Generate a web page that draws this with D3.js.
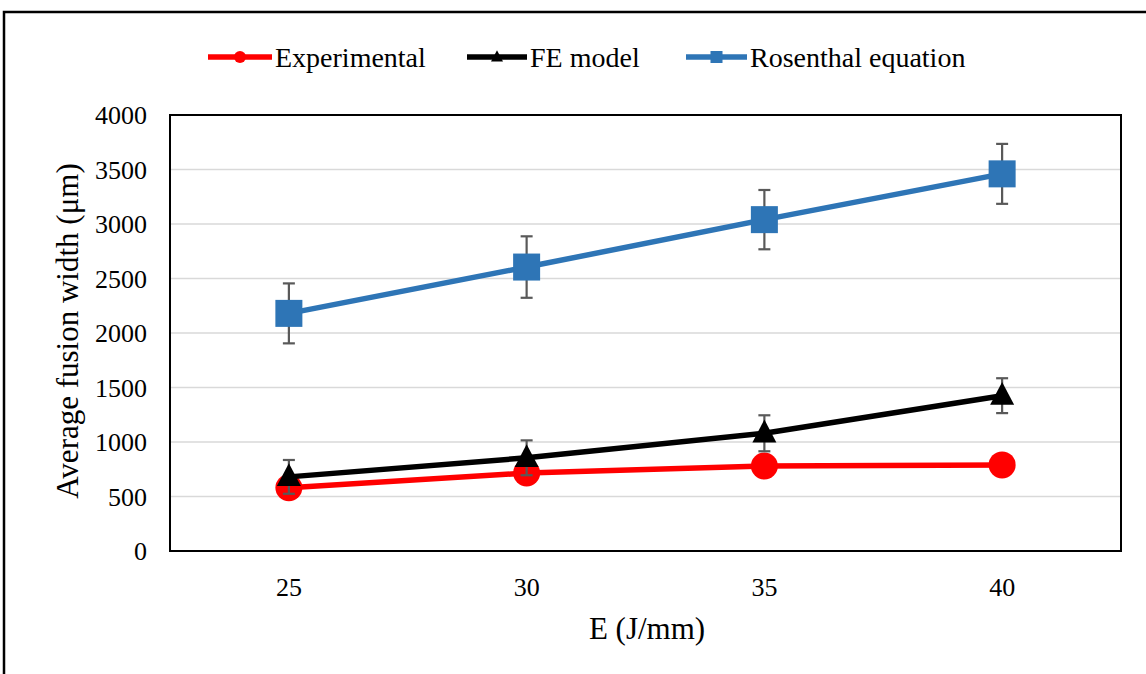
<!DOCTYPE html>
<html>
<head>
<meta charset="utf-8">
<script src="https://cdn.jsdelivr.net/npm/d3@7/dist/d3.min.js"></script>
<style>
  html, body { margin: 0; padding: 0; background: #fff; }
  svg { display: block; }
  text { font-family: "Liberation Serif", "Times New Roman", serif; fill: #000; }
</style>
</head>
<body>
<svg id="chart" width="1146" height="674"></svg>
<script>
// Energy input categories (J/mm)
const energies = ["25", "30", "35", "40"];

// Average fusion width (µm) per series
const experimental = [580, 715, 780, 790];
const feModel = [680, 855, 1080, 1425];
const feModelErr = [155, 160, 165, 160];
const rosenthal = [2180, 2605, 3040, 3460];
const rosenthalErr = [275, 282, 272, 275];

const yTicks = [0, 500, 1000, 1500, 2000, 2500, 3000, 3500, 4000];

const seriesNames = ["Experimental", "FE model", "Rosenthal equation"];
const seriesColors = ["#ff0000", "#000000", "#2e75b6"];
const seriesShapes = ["circle", "triangle", "square"];

const svg = d3.select("#chart");
const W = 1146, H = 674;
const plot = { left: 170, top: 115, right: 1121, bottom: 551 };

// outer frame of the figure
svg.append("rect")
  .attr("x", 4).attr("y", 12)
  .attr("width", W + 10).attr("height", H + 10)
  .attr("fill", "none").attr("stroke", "#000").attr("stroke-width", 2.5);

const x = d3.scaleBand().domain(energies).range([plot.left, plot.right]).padding(0);
const cx = d => x(d) + x.bandwidth() / 2;
const y = d3.scaleLinear().domain([0, 4000]).range([plot.bottom, plot.top]);

// horizontal gridlines
svg.append("g")
  .selectAll("line")
  .data(yTicks.filter(t => t > 0 && t < 4000))
  .join("line")
  .attr("x1", plot.left).attr("x2", plot.right)
  .attr("y1", d => y(d)).attr("y2", d => y(d))
  .attr("stroke", "#d9d9d9").attr("stroke-width", 1.5);

// y axis labels
const yAxis = d3.axisLeft(y).tickValues(yTicks).tickSize(0).tickPadding(0).tickFormat(d3.format("d"));
const gy = svg.append("g").attr("transform", `translate(${plot.left - 23},0)`).call(yAxis);
gy.select(".domain").remove();
gy.selectAll("text")
  .attr("font-size", 26)
  .attr("fill", "#000")
  .attr("dy", "0.34em");

// x axis labels
const xAxis = d3.axisBottom(x).tickSize(0).tickPadding(0);
const gx = svg.append("g").attr("transform", `translate(0,${plot.bottom + 27})`).call(xAxis);
gx.select(".domain").remove();
gx.selectAll("text")
  .attr("font-size", 26)
  .attr("fill", "#000")
  .attr("dy", "0.71em");

// axis titles
svg.append("text")
  .attr("x", 647).attr("y", 639)
  .attr("text-anchor", "middle")
  .attr("font-size", 31)
  .text("E (J/mm)");

svg.append("text")
  .attr("transform", `translate(78,${(plot.top + plot.bottom) / 2 - 2}) rotate(-90)`)
  .attr("text-anchor", "middle")
  .attr("font-size", 31)
  .text("Average fusion width (μm)");

const seriesData = [
  { values: experimental, err: null },
  { values: feModel, err: feModelErr },
  { values: rosenthal, err: rosenthalErr }
];

function drawMarker(g, shape, color, px, py, size) {
  if (shape === "circle") {
    g.append("circle").attr("cx", px).attr("cy", py).attr("r", size / 2).attr("fill", color);
  } else if (shape === "square") {
    g.append("rect").attr("x", px - size / 2).attr("y", py - size / 2)
      .attr("width", size).attr("height", size).attr("fill", color);
  } else {
    const h = size * 0.95;
    g.append("path")
      .attr("d", `M${px},${py - h * 0.6} L${px + size / 2},${py + h * 0.4} L${px - size / 2},${py + h * 0.4} Z`)
      .attr("fill", color);
  }
}

const line = d3.line().x((d, i) => cx(energies[i])).y(d => y(d));

seriesData.forEach((s, si) => {
  const g = svg.append("g");
  // error bars
  if (s.err) {
    s.values.forEach((v, i) => {
      const px = cx(energies[i]);
      const e = s.err[i];
      const eb = g.append("g").attr("stroke", "#595959").attr("stroke-width", 2.2);
      eb.append("line").attr("x1", px).attr("x2", px).attr("y1", y(v - e)).attr("y2", y(v + e));
      eb.append("line").attr("x1", px - 6).attr("x2", px + 6).attr("y1", y(v + e)).attr("y2", y(v + e));
      eb.append("line").attr("x1", px - 6).attr("x2", px + 6).attr("y1", y(v - e)).attr("y2", y(v - e));
    });
  }
  g.append("path")
    .datum(s.values)
    .attr("d", line)
    .attr("fill", "none")
    .attr("stroke", seriesColors[si])
    .attr("stroke-width", 5.5)
    .attr("stroke-linejoin", "round");
  s.values.forEach((v, i) => {
    drawMarker(g, seriesShapes[si], seriesColors[si], cx(energies[i]), y(v), si === 1 ? 24 : 27);
  });
});

// plot area border
svg.append("rect")
  .attr("x", plot.left).attr("y", plot.top)
  .attr("width", plot.right - plot.left).attr("height", plot.bottom - plot.top)
  .attr("fill", "none").attr("stroke", "#000").attr("stroke-width", 2);

// legend
const legendItems = [
  { x0: 208, tx: 275 },
  { x0: 467, tx: 530 },
  { x0: 686, tx: 750 }
];
const legendY = 57;
legendItems.forEach((it, i) => {
  const g = svg.append("g");
  g.append("line")
    .attr("x1", it.x0).attr("x2", it.tx - 3)
    .attr("y1", legendY).attr("y2", legendY)
    .attr("stroke", seriesColors[i]).attr("stroke-width", 5.5);
  drawMarker(g, seriesShapes[i], seriesColors[i], (it.x0 + it.tx - 3) / 2, legendY, 12);
  g.append("text")
    .attr("x", it.tx).attr("y", legendY)
    .attr("dy", "0.34em")
    .attr("font-size", 28)
    .text(seriesNames[i]);
});
</script>
</body>
</html>
